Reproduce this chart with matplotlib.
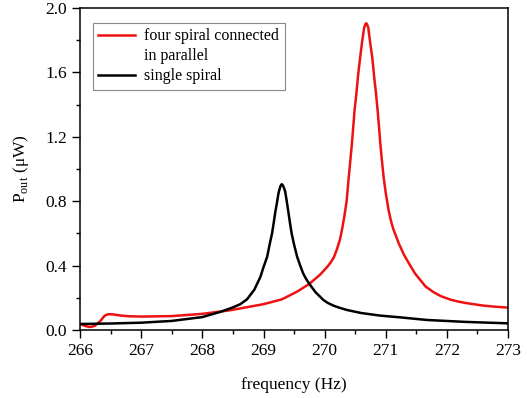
import matplotlib.pyplot as plt
from matplotlib.lines import Line2D
from matplotlib.ticker import MultipleLocator

plt.rcParams['font.family'] = ['Liberation Serif', 'DejaVu Serif']
plt.rcParams['mathtext.fontset'] = 'custom'
plt.rcParams['mathtext.rm'] = 'Liberation Serif'

# four spiral connected in parallel
freq_par = [266.0, 266.08, 266.16, 266.24, 266.33, 266.40, 266.46, 266.55, 266.65, 266.8,
            267.0, 267.5, 268.0, 268.45, 269.0, 269.3, 269.55, 269.75, 269.93, 270.05,
            270.1, 270.15, 270.2, 270.25, 270.285, 270.32, 270.36, 270.39, 270.42, 270.447,
            270.47, 270.49, 270.52, 270.545, 270.58, 270.61, 270.645, 270.665, 270.68, 270.695,
            270.715, 270.746, 270.78, 270.81, 270.84, 270.866, 270.89, 270.91, 270.935, 270.964,
            271.0, 271.046, 271.08, 271.12, 271.21, 271.3, 271.40, 271.48, 271.565, 271.65,
            271.78, 271.9, 272.06, 272.2, 272.33, 272.6, 272.8, 273.0]
p_par = [0.037, 0.025, 0.018, 0.025, 0.055, 0.088, 0.098, 0.096, 0.090, 0.085,
         0.083, 0.086, 0.100, 0.122, 0.160, 0.190, 0.238, 0.286, 0.345, 0.395,
         0.42, 0.45, 0.50, 0.56, 0.625, 0.70, 0.80, 0.93, 1.05, 1.161,
         1.27, 1.366, 1.47, 1.573, 1.69, 1.781, 1.875, 1.898, 1.905, 1.898,
         1.875, 1.781, 1.69, 1.573, 1.47, 1.366, 1.26, 1.161, 1.06, 0.952,
         0.85, 0.745, 0.685, 0.63, 0.54, 0.465, 0.40, 0.35, 0.31, 0.27,
         0.235, 0.21, 0.188, 0.175, 0.166, 0.151, 0.144, 0.139]

# single spiral
freq_single = [266.0, 266.5, 267.0, 267.5, 268.0, 268.3, 268.5, 268.62, 268.73, 268.85,
               268.9, 268.95, 269.0, 269.06, 269.1, 269.14, 269.165, 269.19, 269.22, 269.245,
               269.265, 269.28, 269.29, 269.30, 269.31, 269.32, 269.335, 269.355, 269.38, 269.41,
               269.435, 269.46, 269.5, 269.55, 269.6, 269.65, 269.7, 269.75, 269.85, 269.98,
               270.05, 270.15, 270.25, 270.365, 270.6, 270.91, 271.24, 271.67, 272.3, 273.0]
p_single = [0.037, 0.040, 0.045, 0.056, 0.080, 0.113, 0.140, 0.160, 0.190, 0.25,
            0.29, 0.33, 0.39, 0.455, 0.53, 0.60, 0.66, 0.725, 0.79, 0.849,
            0.878, 0.895, 0.902, 0.905, 0.902, 0.895, 0.882, 0.859, 0.80, 0.725,
            0.66, 0.60, 0.53, 0.455, 0.40, 0.35, 0.315, 0.286, 0.235, 0.186,
            0.168, 0.150, 0.137, 0.124, 0.105, 0.089, 0.078, 0.062, 0.050, 0.041]

fig = plt.figure(figsize=(5.27, 3.98), dpi=100)
ax = fig.add_axes([0.152, 0.171, 0.812, 0.809])

ax.plot(freq_par, p_par, color='#ee1111', lw=1.8)
ax.plot(freq_single, p_single, color='black', lw=1.8)

ax.set_xlim(266, 273)
ax.set_ylim(0, 2.0)
ax.xaxis.set_major_locator(MultipleLocator(1))
ax.xaxis.set_minor_locator(MultipleLocator(0.5))
ax.yaxis.set_major_locator(MultipleLocator(0.4))
ax.yaxis.set_minor_locator(MultipleLocator(0.2))
ax.tick_params(which='both', direction='out', top=False, right=False, labelsize=12.5, width=1.0)
ax.tick_params(which='major', length=6)
ax.tick_params(which='minor', length=3)
for s in ax.spines.values():
    s.set_linewidth(1.1)

ax.set_xlabel('frequency (Hz)', fontsize=12.5, labelpad=13)
ax.set_ylabel(r'P$_{\rm out}$ (μW)', fontsize=12.5, labelpad=10)

handles = [Line2D([], [], color='#ee1111', lw=1.8),
           Line2D([], [], color='none'),
           Line2D([], [], color='black', lw=1.8)]
labels = ['four spiral connected', 'in parallel', 'single spiral']
leg = ax.legend(handles, labels, loc='upper left', bbox_to_anchor=(0.029, 0.954),
                borderaxespad=0, fontsize=11.5, fancybox=False, framealpha=1,
                edgecolor='#888888', handlelength=2.3, labelspacing=0.25, handletextpad=0.6,
                borderpad=0.35)
leg.get_frame().set_linewidth(0.8)

fig.savefig('out.png', dpi=100)
